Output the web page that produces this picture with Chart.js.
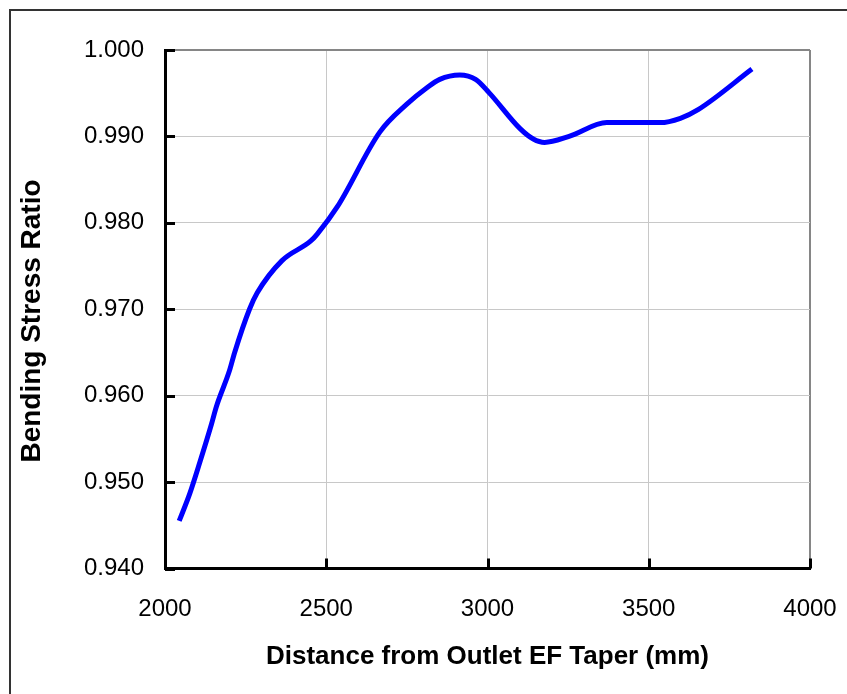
<!DOCTYPE html>
<html>
<head>
<meta charset="utf-8">
<script src="https://cdn.jsdelivr.net/npm/chart.js@4.4.1/dist/chart.umd.min.js"></script>
<style>
  html, body { margin: 0; padding: 0; background: #fff; }
  #wrap { position: relative; width: 847px; height: 694px; overflow: hidden; }
  #frame { position: absolute; left: 9px; top: 9px; width: 900px; height: 800px;
           border-left: 2px solid #333; border-top: 2px solid #333; }
  #stressChart { position: absolute; left: 0; top: 0; }
</style>
</head>
<body>
<div id="wrap">
  <div id="frame"></div>
  <canvas id="stressChart" width="847" height="694"></canvas>
</div>
<script>
// distance along the taper (mm) and the bending stress ratio at each station
var distance = [2044, 2077, 2108, 2144, 2159, 2200, 2216, 2262, 2286, 2362,
                2452, 2472, 2535, 2666, 2749, 2811, 2852, 2914, 2963, 3004,
                3101, 3142, 3177, 3253, 3370, 3536, 3598, 3653, 3820];
var ratio = [0.9455, 0.9487, 0.9523, 0.9567, 0.9587, 0.9629, 0.9650, 0.9700, 0.9719, 0.9756,
             0.9779, 0.9787, 0.9819, 0.9905, 0.9937, 0.9956, 0.9966, 0.9971, 0.9966, 0.9951,
             0.9909, 0.9897, 0.9893, 0.9900, 0.9916, 0.9916, 0.9921, 0.9931, 0.9978];

var xMin = 2000, xMax = 4000, xStep = 500;
var yMin = 0.94, yMax = 1.0, yStep = 0.01;

var xTitle = 'Distance from Outlet EF Taper (mm)';
var yTitle = 'Bending Stress Ratio';

var points = [];
for (var i in distance) {
	points.push({ x : distance[i], y : ratio[i] });
}

var fontFamily = "Arial, 'Liberation Sans', sans-serif";

function isTop(v) { return Math.abs(v - yMax) < 1e-6; }
function isRight(v) { return Math.abs(v - xMax) < 1e-6; }

// tick marks point into the plot, so draw them by hand
var innerTicks = {
	id : 'innerTicks',
	afterDraw : function(chart) {
		var ctx = chart.ctx;
		var area = chart.chartArea;
		var xs = chart.scales.x, ys = chart.scales.y;
		ctx.save();
		ctx.strokeStyle = '#000';
		ctx.lineWidth = 3;
		ctx.beginPath();
		ys.ticks.forEach(function(t) {
			var py = Math.round(ys.getPixelForValue(t.value)) + 0.5;
			ctx.moveTo(area.left, py);
			ctx.lineTo(area.left + 10, py);
		});
		xs.ticks.forEach(function(t) {
			var px = Math.round(xs.getPixelForValue(t.value)) + 0.5;
			ctx.moveTo(px, area.bottom);
			ctx.lineTo(px, area.bottom - 10);
		});
		ctx.stroke();

		// vertical axis title, sitting a little below the plot's middle
		ctx.translate(32, 321);
		ctx.rotate(-Math.PI / 2);
		ctx.fillStyle = '#000';
		ctx.font = 'bold 28px ' + fontFamily;
		ctx.textAlign = 'center';
		ctx.textBaseline = 'middle';
		ctx.fillText(yTitle, 0, 0);
		ctx.restore();
	}
};

var chart = new Chart(document.getElementById('stressChart'), {
	type : 'line',
	data : {
		datasets : [ {
			data : points,
			borderColor : '#0000ff',
			borderWidth : 5,
			pointRadius : 0,
			fill : false,
			cubicInterpolationMode : 'monotone'
		} ]
	},
	options : {
		responsive : false,
		animation : false,
		layout : {
			padding : { left : 10, top : 50, right : 37, bottom : 0 }
		},
		plugins : {
			legend : { display : false },
			tooltip : { enabled : false }
		},
		scales : {
			x : {
				type : 'linear',
				min : xMin,
				max : xMax,
				afterFit : function(scale) {
					scale.height = 125.5;
					scale.paddingLeft = 0;
					scale.paddingRight = 0;
				},
				ticks : {
					stepSize : xStep,
					padding : 26,
					color : '#000',
					font : { family : fontFamily, size : 24 },
					callback : function(v) { return String(v); }
				},
				grid : {
					drawTicks : false,
					color : function(c) { return c.tick && isRight(c.tick.value) ? '#868686' : '#c8c8c8'; },
					lineWidth : function(c) { return c.tick && isRight(c.tick.value) ? 2 : 1; }
				},
				border : { color : '#000', width : 3 },
				title : {
					display : true,
					text : xTitle,
					color : '#000',
					font : { family : fontFamily, size : 26, weight : 'bold' },
					padding : { top : 0, bottom : 22 }
				}
			},
			y : {
				min : yMin,
				max : yMax,
				afterFit : function(scale) {
					scale.width = 155;
					scale.paddingTop = 0;
					scale.paddingBottom = 0;
				},
				ticks : {
					stepSize : yStep,
					padding : 21,
					color : '#000',
					font : { family : fontFamily, size : 24 },
					callback : function(v) { return v.toFixed(3); }
				},
				grid : {
					drawTicks : false,
					color : function(c) { return c.tick && isTop(c.tick.value) ? '#868686' : '#c8c8c8'; },
					lineWidth : function(c) { return c.tick && isTop(c.tick.value) ? 2 : 1; }
				},
				border : { color : '#000', width : 3 }
			}
		}
	},
	plugins : [ innerTicks ]
});
</script>
</body>
</html>
